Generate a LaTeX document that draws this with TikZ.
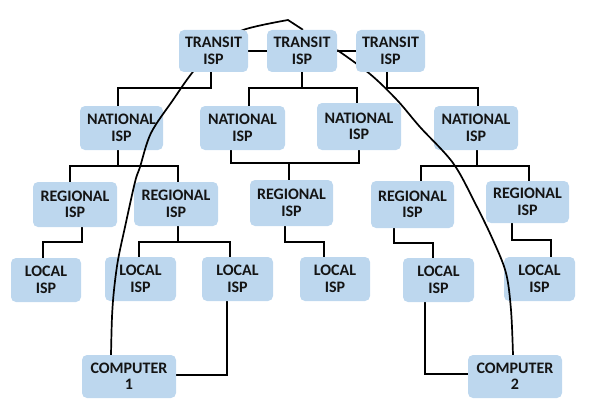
\documentclass[tikz,border=0pt]{standalone}
\usepackage{fontspec}
\setmainfont{Carlito}
\usetikzlibrary{calc}
\definecolor{boxblue}{RGB}{189,215,238}
\definecolor{txt}{RGB}{20,20,20}
\pgfdeclarelayer{bg}
\pgfdeclarelayer{front}
\pgfsetlayers{bg,main,front}
\tikzset{
  isp/.style={fill=boxblue, rounded corners=5pt, align=center, inner sep=0pt,
    font=\bfseries\fontsize{16}{16.5}\selectfont, text=txt},
  link/.style={line width=1.8pt, black},
  arcline/.style={line width=1.7pt, black},
}
\begin{document}
\begin{tikzpicture}[x=1pt,y=-1pt]
\useasboundingbox (0,0) rectangle (605,412);

% transit ISPs (in front of the arc)
\begin{pgfonlayer}{front}
\node[isp, minimum width=69pt, minimum height=42pt] (t1) at (213.5,51) {TRANSIT\\ISP};
\node[isp, minimum width=70pt, minimum height=42pt] (t2) at (302,51) {TRANSIT\\ISP};
\node[isp, minimum width=69pt, minimum height=42pt] (t3) at (390.5,51) {TRANSIT\\ISP};
\end{pgfonlayer}

% national
\node[isp, minimum width=83pt, minimum height=44pt] (n1) at (121.5,128) {NATIONAL\\ISP};
\node[isp, minimum width=85pt, minimum height=44pt] (n2) at (242.5,128) {NATIONAL\\ISP};
\node[isp, minimum width=84pt, minimum height=47pt] (n3) at (359,126.5) {NATIONAL\\ISP};
\node[isp, minimum width=84pt, minimum height=44pt] (n4) at (476,128) {NATIONAL\\ISP};

% regional
\node[isp, minimum width=84pt, minimum height=45pt] (r1) at (75,204.5) {REGIONAL\\ISP};
\node[isp, minimum width=84pt, minimum height=44pt] (r2) at (176,204) {REGIONAL\\ISP};
\node[isp, minimum width=83pt, minimum height=46pt] (r3) at (291.5,203) {REGIONAL\\ISP};
\node[isp, minimum width=83pt, minimum height=47pt] (r4) at (412.5,204.5) {REGIONAL\\ISP};
\node[isp, minimum width=83pt, minimum height=42pt] (r5) at (527.5,202) {REGIONAL\\ISP};

% local
\node[isp, minimum width=70pt, minimum height=44pt] (l1) at (46,280) {LOCAL\\ISP};
\node[isp, minimum width=71pt, minimum height=44pt] (l2) at (140.5,279) {LOCAL\\ISP};
\node[isp, minimum width=71pt, minimum height=44pt] (l3) at (237.5,279) {LOCAL\\ISP};
\node[isp, minimum width=70pt, minimum height=44pt] (l4) at (335,279) {LOCAL\\ISP};
\node[isp, minimum width=71pt, minimum height=44pt] (l5) at (438.5,280) {LOCAL\\ISP};
\node[isp, minimum width=71pt, minimum height=44pt] (l6) at (539.5,279) {LOCAL\\ISP};

% computers
\node[isp, minimum width=94pt, minimum height=43pt] (c1) at (129,376.5) {COMPUTER\\1};
\node[isp, minimum width=94pt, minimum height=43pt] (c2) at (515,376.5) {COMPUTER\\2};

% tree connectors
\begin{pgfonlayer}{bg}
\draw[link] (t1.east) -- (t2.west);
\draw[link] (t2.east) -- (t3.west);
\draw[link] (t1.south -| 211,0) -- (211,88) -- (118,88) -- (n1.north -| 118,0);
\draw[link] (t2.south -| 302,0) -- (302,88);
\draw[link] (n2.north -| 249,0) -- (249,88) -- (357,88) -- (n3.north -| 357,0);
\draw[link] (t3.south -| 387,0) -- (387,88) -- (478,88) -- (n4.north -| 478,0);

\draw[link] (n1.south -| 118,0) -- (118,166);
\draw[link] (r1.north -| 70,0) -- (70,166) -- (178,166) -- (r2.north -| 178,0);
\draw[link] (n2.south -| 231,0) -- (231,163) -- (359,163) -- (n3.south -| 359,0);
\draw[link] (289,163) -- (r3.north -| 289,0);
\draw[link] (n4.south -| 477,0) -- (477,166);
\draw[link] (r4.north -| 421,0) -- (421,166) -- (529,166) -- (r5.north -| 529,0);

\draw[link] (r1.south -| 82,0) -- (82,242) -- (43,242) -- (l1.north -| 43,0);
\draw[link] (r2.south -| 178,0) -- (178,242);
\draw[link] (l2.north -| 139,0) -- (139,242) -- (230,242) -- (l3.north -| 230,0);
\draw[link] (r3.south -| 285,0) -- (285,242) -- (324,242) -- (l4.north -| 324,0);
\draw[link] (r4.south -| 394,0) -- (394,243) -- (433,243) -- (l5.north -| 433,0);
\draw[link] (r5.south -| 512,0) -- (512,240) -- (551,240) -- (l6.north -| 551,0);

\draw[link] (l3.south -| 227,0) -- (227,375) -- (c1.east |- 0,375);
\draw[link] (l5.south -| 425,0) -- (425,374) -- (c2.west |- 0,374);
\end{pgfonlayer}

% the long path from computer 1 to computer 2
\draw[arcline] plot[smooth, tension=0.55] coordinates {
  (c1.north -| 111,0) (112,317) (114,290) (118,260) (125,227) (135,182)
  (140,167) (151,133) (173,100) (192,73) (215,47) (243,30) (288,20)}
  -- (t2.north -| 303,0);
\draw[arcline] plot[smooth, tension=0.55] coordinates {
  (t2.east |- 0,50) (370,74) (397,100) (420,127) (453,163) (475,203)
  (493,240) (506,273) (511,310) (c2.north -| 513,0)};
\end{tikzpicture}
\end{document}
